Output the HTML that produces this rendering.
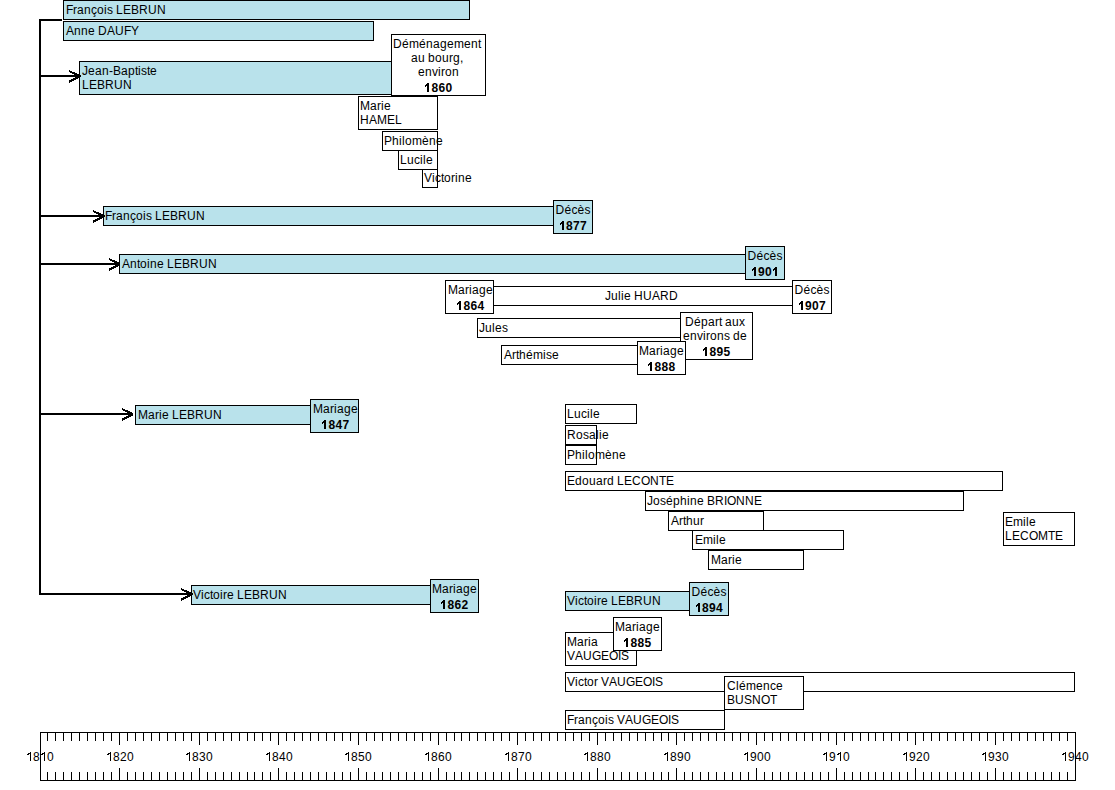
<!DOCTYPE html>
<html><head><meta charset="utf-8"><style>
html,body{margin:0;padding:0;background:#fff;width:1115px;height:790px;overflow:hidden}
svg{position:absolute;left:0;top:0;display:block}
text{font-family:"Liberation Sans",sans-serif;font-size:12px;fill:#000}
.y{font-weight:bold}
</style></head><body>
<svg width="1115" height="790" viewBox="0 0 1115 790">
<rect x="63.5" y="0.5" width="406" height="19" fill="#B9E2EB" stroke="#000" stroke-width="1"/>
<text x="66 73 77 84 91 97 104 107 113 116 123 131 139 148 157" y="14">François LEBRUN</text>
<rect x="63.5" y="21.5" width="310" height="19" fill="#B9E2EB" stroke="#000" stroke-width="1"/>
<text x="66 74 81 88 95 98 107 115 124 131" y="35">Anne DAUFY</text>
<rect x="79.5" y="61.5" width="316" height="33" fill="#B9E2EB" stroke="#000" stroke-width="1"/>
<text x="82 88 95 102 109 113 121 128 135 138 141 147 150" y="75">Jean-Baptiste</text>
<text x="82 89 97 105 114 123" y="89">LEBRUN</text>
<rect x="391.5" y="34.5" width="94" height="61" fill="#fff" stroke="#000" stroke-width="1"/>
<text x="393 402 409 419 426 433 440 447 454 464 471 478" y="48">Déménagement</text>
<text x="411 418 425 428 435 442 449 453 460" y="62">au bourg,</text>
<text x="418 425 432 438 441 445 452" y="76">environ</text>
<text x="431.5 438.5 445.5" y="92" class="y">860</text>
<g shape-rendering="crispEdges" fill="#000"><rect x="427" y="83" width="2" height="9"/><rect x="425" y="85" width="1" height="2"/><rect x="426" y="84" width="1" height="2"/></g>
<rect x="358.5" y="96.5" width="79" height="33" fill="#fff" stroke="#000" stroke-width="1"/>
<text x="360 370 377 381 384" y="110">Marie</text>
<text x="360 369 377 387 395" y="124">HAMEL</text>
<rect x="382.5" y="131.5" width="55" height="19" fill="#fff" stroke="#000" stroke-width="1"/>
<text x="384 392 399 402 405 412 422 429 436" y="145">Philomène</text>
<rect x="398.5" y="150.5" width="39" height="19" fill="#fff" stroke="#000" stroke-width="1"/>
<text x="400 407 414 420 423 426" y="164">Lucile</text>
<rect x="422.5" y="169.5" width="15" height="18" fill="#fff" stroke="#000" stroke-width="1"/>
<text x="424 432 435 441 444 451 455 458 465" y="182">Victorine</text>
<rect x="103.5" y="206.5" width="457" height="19" fill="#B9E2EB" stroke="#000" stroke-width="1"/>
<text x="105 112 116 123 130 136 143 146 152 155 162 170 178 187 196" y="220">François LEBRUN</text>
<rect x="553.5" y="200.5" width="39" height="33" fill="#B9E2EB" stroke="#000" stroke-width="1"/>
<text x="555.5 564.5 571.5 577.5 584.5" y="214">Décès</text>
<text x="566 573 580" y="230" class="y">877</text>
<g shape-rendering="crispEdges" fill="#000"><rect x="562" y="221" width="2" height="9"/><rect x="560" y="223" width="1" height="2"/><rect x="561" y="222" width="1" height="2"/></g>
<rect x="119.5" y="254.5" width="631" height="19" fill="#B9E2EB" stroke="#000" stroke-width="1"/>
<text x="122 130 137 140 147 150 157 164 167 174 182 190 199 208" y="268">Antoine LEBRUN</text>
<rect x="745.5" y="246.5" width="39" height="33" fill="#B9E2EB" stroke="#000" stroke-width="1"/>
<text x="747.5 756.5 763.5 769.5 776.5" y="260">Décès</text>
<text x="758 765" y="276" class="y">90</text>
<g shape-rendering="crispEdges" fill="#000"><rect x="754" y="267" width="2" height="9"/><rect x="752" y="269" width="1" height="2"/><rect x="753" y="268" width="1" height="2"/><rect x="775" y="267" width="2" height="9"/><rect x="773" y="269" width="1" height="2"/><rect x="774" y="268" width="1" height="2"/></g>
<rect x="487.5" y="286.5" width="309" height="19" fill="#fff" stroke="#000" stroke-width="1"/>
<text x="605 611 618 621 624 631 634 643 652 660 669" y="300">Julie HUARD</text>
<rect x="445.5" y="280.5" width="48" height="33" fill="#fff" stroke="#000" stroke-width="1"/>
<text x="448 458 465 469 472 479 486" y="294">Mariage</text>
<text x="463.5 470.5 477.5" y="310" class="y">864</text>
<g shape-rendering="crispEdges" fill="#000"><rect x="459" y="301" width="2" height="9"/><rect x="457" y="303" width="1" height="2"/><rect x="458" y="302" width="1" height="2"/></g>
<rect x="792.5" y="280.5" width="39" height="33" fill="#fff" stroke="#000" stroke-width="1"/>
<text x="794.5 803.5 810.5 816.5 823.5" y="294">Décès</text>
<text x="805 812 819" y="310" class="y">907</text>
<g shape-rendering="crispEdges" fill="#000"><rect x="801" y="301" width="2" height="9"/><rect x="799" y="303" width="1" height="2"/><rect x="800" y="302" width="1" height="2"/></g>
<rect x="477.5" y="318.5" width="208" height="19" fill="#fff" stroke="#000" stroke-width="1"/>
<text x="479 485 492 495 502" y="332">Jules</text>
<rect x="501.5" y="345.5" width="144" height="19" fill="#fff" stroke="#000" stroke-width="1"/>
<text x="504 512 516 519 526 533 543 546 552" y="359">Arthémise</text>
<rect x="680.5" y="312.5" width="72" height="47" fill="#fff" stroke="#000" stroke-width="1"/>
<text x="685 694 701 708 715 719 722 725 732 739" y="326">Départ aux</text>
<text x="683 690 697 703 706 710 717 724 730 733 740" y="340">environs de</text>
<text x="709.5 716.5 723.5" y="356" class="y">895</text>
<g shape-rendering="crispEdges" fill="#000"><rect x="705" y="347" width="2" height="9"/><rect x="703" y="349" width="1" height="2"/><rect x="704" y="348" width="1" height="2"/></g>
<rect x="637.5" y="341.5" width="48" height="33" fill="#fff" stroke="#000" stroke-width="1"/>
<text x="639 649 656 660 663 670 677" y="355">Mariage</text>
<text x="654.5 661.5 668.5" y="371" class="y">888</text>
<g shape-rendering="crispEdges" fill="#000"><rect x="650" y="362" width="2" height="9"/><rect x="648" y="364" width="1" height="2"/><rect x="649" y="363" width="1" height="2"/></g>
<rect x="135.5" y="405.5" width="180" height="19" fill="#B9E2EB" stroke="#000" stroke-width="1"/>
<text x="138 148 155 159 162 169 172 179 187 195 204 213" y="419">Marie LEBRUN</text>
<rect x="310.5" y="399.5" width="48" height="33" fill="#B9E2EB" stroke="#000" stroke-width="1"/>
<text x="313 323 330 334 337 344 351" y="413">Mariage</text>
<text x="328.5 335.5 342.5" y="429" class="y">847</text>
<g shape-rendering="crispEdges" fill="#000"><rect x="324" y="420" width="2" height="9"/><rect x="322" y="422" width="1" height="2"/><rect x="323" y="421" width="1" height="2"/></g>
<rect x="565.5" y="404.5" width="71" height="19" fill="#fff" stroke="#000" stroke-width="1"/>
<text x="567 574 581 587 590 593" y="418">Lucile</text>
<rect x="565.5" y="425.5" width="31" height="19" fill="#fff" stroke="#000" stroke-width="1"/>
<text x="567 576 583 589 596 599 602" y="439">Rosalie</text>
<rect x="565.5" y="445.5" width="31" height="19" fill="#fff" stroke="#000" stroke-width="1"/>
<text x="567 575 582 585 588 595 605 612 619" y="459">Philomène</text>
<rect x="565.5" y="471.5" width="437" height="19" fill="#fff" stroke="#000" stroke-width="1"/>
<text x="567 575 582 589 596 603 607 614 617 624 632 641 650 659 666" y="485">Edouard LECONTE</text>
<rect x="645.5" y="491.5" width="318" height="19" fill="#fff" stroke="#000" stroke-width="1"/>
<text x="647 653 660 666 673 680 687 690 697 704 707 715 724 727 736 745 754" y="505">Joséphine BRIONNE</text>
<rect x="668.5" y="511.5" width="95" height="19" fill="#fff" stroke="#000" stroke-width="1"/>
<text x="671 679 683 686 693 700" y="525">Arthur</text>
<rect x="692.5" y="530.5" width="151" height="19" fill="#fff" stroke="#000" stroke-width="1"/>
<text x="695 703 713 716 719" y="544">Emile</text>
<rect x="708.5" y="550.5" width="95" height="19" fill="#fff" stroke="#000" stroke-width="1"/>
<text x="711 721 728 732 735" y="564">Marie</text>
<rect x="1003.5" y="512.5" width="71" height="33" fill="#fff" stroke="#000" stroke-width="1"/>
<text x="1005 1013 1023 1026 1029" y="526">Emile</text>
<text x="1005 1012 1020 1029 1038 1048 1055" y="540">LECOMTE</text>
<rect x="191.5" y="585.5" width="244" height="19" fill="#B9E2EB" stroke="#000" stroke-width="1"/>
<text x="193 201 204 210 213 220 223 227 234 237 244 252 260 269 278" y="599">Victoire LEBRUN</text>
<rect x="430.5" y="579.5" width="48" height="33" fill="#B9E2EB" stroke="#000" stroke-width="1"/>
<text x="432 442 449 453 456 463 470" y="593">Mariage</text>
<text x="447.5 454.5 461.5" y="609" class="y">862</text>
<g shape-rendering="crispEdges" fill="#000"><rect x="443" y="600" width="2" height="9"/><rect x="441" y="602" width="1" height="2"/><rect x="442" y="601" width="1" height="2"/></g>
<rect x="565.5" y="591.5" width="130" height="19" fill="#B9E2EB" stroke="#000" stroke-width="1"/>
<text x="567 575 578 584 587 594 597 601 608 611 618 626 634 643 652" y="605">Victoire LEBRUN</text>
<rect x="689.5" y="582.5" width="39" height="33" fill="#B9E2EB" stroke="#000" stroke-width="1"/>
<text x="691.5 700.5 707.5 713.5 720.5" y="596">Décès</text>
<text x="702 709 716" y="612" class="y">894</text>
<g shape-rendering="crispEdges" fill="#000"><rect x="698" y="603" width="2" height="9"/><rect x="696" y="605" width="1" height="2"/><rect x="697" y="604" width="1" height="2"/></g>
<rect x="565.5" y="632.5" width="71" height="33" fill="#fff" stroke="#000" stroke-width="1"/>
<text x="567 577 584 588 591" y="646">Maria</text>
<text x="567 575 583 592 601 609 618 621" y="660">VAUGEOIS</text>
<rect x="613.5" y="617.5" width="48" height="33" fill="#fff" stroke="#000" stroke-width="1"/>
<text x="615 625 632 636 639 646 653" y="631">Mariage</text>
<text x="630.5 637.5 644.5" y="647" class="y">885</text>
<g shape-rendering="crispEdges" fill="#000"><rect x="626" y="638" width="2" height="9"/><rect x="624" y="640" width="1" height="2"/><rect x="625" y="639" width="1" height="2"/></g>
<rect x="565.5" y="672.5" width="509" height="19" fill="#fff" stroke="#000" stroke-width="1"/>
<text x="567 575 578 584 587 594 598 601 609 617 626 635 643 652 655" y="686">Victor VAUGEOIS</text>
<rect x="565.5" y="710.5" width="159" height="19" fill="#fff" stroke="#000" stroke-width="1"/>
<text x="567 574 578 585 592 598 605 608 614 617 625 633 642 651 659 668 671" y="724">François VAUGEOIS</text>
<rect x="724.5" y="676.5" width="79" height="33" fill="#fff" stroke="#000" stroke-width="1"/>
<text x="727 736 739 746 756 763 770 776" y="690">Clémence</text>
<text x="727 735 744 752 761 770" y="704">BUSNOT</text>
<g shape-rendering="crispEdges" fill="#000">
<rect x="39" y="19" width="2" height="576"/>
<rect x="39" y="19" width="23" height="2"/>
<rect x="39" y="75" width="42" height="2"/>
<rect x="39" y="215" width="66" height="2"/>
<rect x="39" y="263" width="81" height="2"/>
<rect x="39" y="413" width="94" height="2"/>
<rect x="39" y="593" width="154" height="2"/>
</g>
<g fill="none" stroke="#000" stroke-width="2" stroke-linejoin="bevel" shape-rendering="crispEdges">
<polyline points="69,71 80,76.2 69,81.7"/>
<polyline points="93,211 104,216.2 93,221.7"/>
<polyline points="109,259 120,264.2 109,269.7"/>
<polyline points="122,409 133,414.2 122,419.7"/>
<polyline points="181,589 192,594.2 181,599.7"/>
</g>
<text x="33 47" y="761">80</text>
<text x="113 120 127" y="761">820</text>
<text x="192 199 206" y="761">830</text>
<text x="272 279 286" y="761">840</text>
<text x="351 358 365" y="761">850</text>
<text x="431 438 445" y="761">860</text>
<text x="511 518 525" y="761">870</text>
<text x="590 597 604" y="761">880</text>
<text x="670 677 684" y="761">890</text>
<text x="750 757 764" y="761">900</text>
<text x="829 843" y="761">90</text>
<text x="909 916 923" y="761">920</text>
<text x="988 995 1002" y="761">930</text>
<text x="1068 1075 1082" y="761">940</text>
<g shape-rendering="crispEdges" fill="#000"><rect x="30" y="752" width="1" height="9"/><rect x="29" y="753" width="1" height="1"/><rect x="28" y="753" width="1" height="2"/><rect x="27" y="754" width="1" height="1"/><rect x="44" y="752" width="1" height="9"/><rect x="43" y="753" width="1" height="1"/><rect x="42" y="753" width="1" height="2"/><rect x="41" y="754" width="1" height="1"/><rect x="110" y="752" width="1" height="9"/><rect x="109" y="753" width="1" height="1"/><rect x="108" y="753" width="1" height="2"/><rect x="107" y="754" width="1" height="1"/><rect x="189" y="752" width="1" height="9"/><rect x="188" y="753" width="1" height="1"/><rect x="187" y="753" width="1" height="2"/><rect x="186" y="754" width="1" height="1"/><rect x="269" y="752" width="1" height="9"/><rect x="268" y="753" width="1" height="1"/><rect x="267" y="753" width="1" height="2"/><rect x="266" y="754" width="1" height="1"/><rect x="348" y="752" width="1" height="9"/><rect x="347" y="753" width="1" height="1"/><rect x="346" y="753" width="1" height="2"/><rect x="345" y="754" width="1" height="1"/><rect x="428" y="752" width="1" height="9"/><rect x="427" y="753" width="1" height="1"/><rect x="426" y="753" width="1" height="2"/><rect x="425" y="754" width="1" height="1"/><rect x="508" y="752" width="1" height="9"/><rect x="507" y="753" width="1" height="1"/><rect x="506" y="753" width="1" height="2"/><rect x="505" y="754" width="1" height="1"/><rect x="587" y="752" width="1" height="9"/><rect x="586" y="753" width="1" height="1"/><rect x="585" y="753" width="1" height="2"/><rect x="584" y="754" width="1" height="1"/><rect x="667" y="752" width="1" height="9"/><rect x="666" y="753" width="1" height="1"/><rect x="665" y="753" width="1" height="2"/><rect x="664" y="754" width="1" height="1"/><rect x="747" y="752" width="1" height="9"/><rect x="746" y="753" width="1" height="1"/><rect x="745" y="753" width="1" height="2"/><rect x="744" y="754" width="1" height="1"/><rect x="826" y="752" width="1" height="9"/><rect x="825" y="753" width="1" height="1"/><rect x="824" y="753" width="1" height="2"/><rect x="823" y="754" width="1" height="1"/><rect x="840" y="752" width="1" height="9"/><rect x="839" y="753" width="1" height="1"/><rect x="838" y="753" width="1" height="2"/><rect x="837" y="754" width="1" height="1"/><rect x="906" y="752" width="1" height="9"/><rect x="905" y="753" width="1" height="1"/><rect x="904" y="753" width="1" height="2"/><rect x="903" y="754" width="1" height="1"/><rect x="985" y="752" width="1" height="9"/><rect x="984" y="753" width="1" height="1"/><rect x="983" y="753" width="1" height="2"/><rect x="982" y="754" width="1" height="1"/><rect x="1065" y="752" width="1" height="9"/><rect x="1064" y="753" width="1" height="1"/><rect x="1063" y="753" width="1" height="2"/><rect x="1062" y="754" width="1" height="1"/></g>
<g shape-rendering="crispEdges" fill="#000">
<rect x="40" y="732" width="1036" height="1"/>
<rect x="40" y="780" width="1036" height="1"/>
<rect x="40" y="732" width="1" height="49"/>
<rect x="1075" y="732" width="1" height="49"/>
<rect x="47" y="732" width="1" height="9"/>
<rect x="47" y="772" width="1" height="9"/>
<rect x="55" y="732" width="1" height="9"/>
<rect x="55" y="772" width="1" height="9"/>
<rect x="63" y="732" width="1" height="9"/>
<rect x="63" y="772" width="1" height="9"/>
<rect x="71" y="732" width="1" height="9"/>
<rect x="71" y="772" width="1" height="9"/>
<rect x="79" y="732" width="1" height="9"/>
<rect x="79" y="772" width="1" height="9"/>
<rect x="87" y="732" width="1" height="9"/>
<rect x="87" y="772" width="1" height="9"/>
<rect x="95" y="732" width="1" height="9"/>
<rect x="95" y="772" width="1" height="9"/>
<rect x="103" y="732" width="1" height="9"/>
<rect x="103" y="772" width="1" height="9"/>
<rect x="111" y="732" width="1" height="9"/>
<rect x="111" y="772" width="1" height="9"/>
<rect x="119" y="732" width="1" height="13"/>
<rect x="119" y="768" width="1" height="13"/>
<rect x="127" y="732" width="1" height="9"/>
<rect x="127" y="772" width="1" height="9"/>
<rect x="135" y="732" width="1" height="9"/>
<rect x="135" y="772" width="1" height="9"/>
<rect x="143" y="732" width="1" height="9"/>
<rect x="143" y="772" width="1" height="9"/>
<rect x="151" y="732" width="1" height="9"/>
<rect x="151" y="772" width="1" height="9"/>
<rect x="159" y="732" width="1" height="9"/>
<rect x="159" y="772" width="1" height="9"/>
<rect x="167" y="732" width="1" height="9"/>
<rect x="167" y="772" width="1" height="9"/>
<rect x="175" y="732" width="1" height="9"/>
<rect x="175" y="772" width="1" height="9"/>
<rect x="183" y="732" width="1" height="9"/>
<rect x="183" y="772" width="1" height="9"/>
<rect x="191" y="732" width="1" height="9"/>
<rect x="191" y="772" width="1" height="9"/>
<rect x="199" y="732" width="1" height="13"/>
<rect x="199" y="768" width="1" height="13"/>
<rect x="207" y="732" width="1" height="9"/>
<rect x="207" y="772" width="1" height="9"/>
<rect x="215" y="732" width="1" height="9"/>
<rect x="215" y="772" width="1" height="9"/>
<rect x="223" y="732" width="1" height="9"/>
<rect x="223" y="772" width="1" height="9"/>
<rect x="231" y="732" width="1" height="9"/>
<rect x="231" y="772" width="1" height="9"/>
<rect x="239" y="732" width="1" height="9"/>
<rect x="239" y="772" width="1" height="9"/>
<rect x="247" y="732" width="1" height="9"/>
<rect x="247" y="772" width="1" height="9"/>
<rect x="254" y="732" width="1" height="9"/>
<rect x="254" y="772" width="1" height="9"/>
<rect x="262" y="732" width="1" height="9"/>
<rect x="262" y="772" width="1" height="9"/>
<rect x="270" y="732" width="1" height="9"/>
<rect x="270" y="772" width="1" height="9"/>
<rect x="278" y="732" width="1" height="13"/>
<rect x="278" y="768" width="1" height="13"/>
<rect x="286" y="732" width="1" height="9"/>
<rect x="286" y="772" width="1" height="9"/>
<rect x="294" y="732" width="1" height="9"/>
<rect x="294" y="772" width="1" height="9"/>
<rect x="302" y="732" width="1" height="9"/>
<rect x="302" y="772" width="1" height="9"/>
<rect x="310" y="732" width="1" height="9"/>
<rect x="310" y="772" width="1" height="9"/>
<rect x="318" y="732" width="1" height="9"/>
<rect x="318" y="772" width="1" height="9"/>
<rect x="326" y="732" width="1" height="9"/>
<rect x="326" y="772" width="1" height="9"/>
<rect x="334" y="732" width="1" height="9"/>
<rect x="334" y="772" width="1" height="9"/>
<rect x="342" y="732" width="1" height="9"/>
<rect x="342" y="772" width="1" height="9"/>
<rect x="350" y="732" width="1" height="9"/>
<rect x="350" y="772" width="1" height="9"/>
<rect x="358" y="732" width="1" height="13"/>
<rect x="358" y="768" width="1" height="13"/>
<rect x="366" y="732" width="1" height="9"/>
<rect x="366" y="772" width="1" height="9"/>
<rect x="374" y="732" width="1" height="9"/>
<rect x="374" y="772" width="1" height="9"/>
<rect x="382" y="732" width="1" height="9"/>
<rect x="382" y="772" width="1" height="9"/>
<rect x="390" y="732" width="1" height="9"/>
<rect x="390" y="772" width="1" height="9"/>
<rect x="398" y="732" width="1" height="9"/>
<rect x="398" y="772" width="1" height="9"/>
<rect x="406" y="732" width="1" height="9"/>
<rect x="406" y="772" width="1" height="9"/>
<rect x="414" y="732" width="1" height="9"/>
<rect x="414" y="772" width="1" height="9"/>
<rect x="422" y="732" width="1" height="9"/>
<rect x="422" y="772" width="1" height="9"/>
<rect x="430" y="732" width="1" height="9"/>
<rect x="430" y="772" width="1" height="9"/>
<rect x="438" y="732" width="1" height="13"/>
<rect x="438" y="768" width="1" height="13"/>
<rect x="446" y="732" width="1" height="9"/>
<rect x="446" y="772" width="1" height="9"/>
<rect x="454" y="732" width="1" height="9"/>
<rect x="454" y="772" width="1" height="9"/>
<rect x="461" y="732" width="1" height="9"/>
<rect x="461" y="772" width="1" height="9"/>
<rect x="469" y="732" width="1" height="9"/>
<rect x="469" y="772" width="1" height="9"/>
<rect x="477" y="732" width="1" height="9"/>
<rect x="477" y="772" width="1" height="9"/>
<rect x="485" y="732" width="1" height="9"/>
<rect x="485" y="772" width="1" height="9"/>
<rect x="493" y="732" width="1" height="9"/>
<rect x="493" y="772" width="1" height="9"/>
<rect x="501" y="732" width="1" height="9"/>
<rect x="501" y="772" width="1" height="9"/>
<rect x="509" y="732" width="1" height="9"/>
<rect x="509" y="772" width="1" height="9"/>
<rect x="517" y="732" width="1" height="13"/>
<rect x="517" y="768" width="1" height="13"/>
<rect x="525" y="732" width="1" height="9"/>
<rect x="525" y="772" width="1" height="9"/>
<rect x="533" y="732" width="1" height="9"/>
<rect x="533" y="772" width="1" height="9"/>
<rect x="541" y="732" width="1" height="9"/>
<rect x="541" y="772" width="1" height="9"/>
<rect x="549" y="732" width="1" height="9"/>
<rect x="549" y="772" width="1" height="9"/>
<rect x="557" y="732" width="1" height="9"/>
<rect x="557" y="772" width="1" height="9"/>
<rect x="565" y="732" width="1" height="9"/>
<rect x="565" y="772" width="1" height="9"/>
<rect x="573" y="732" width="1" height="9"/>
<rect x="573" y="772" width="1" height="9"/>
<rect x="581" y="732" width="1" height="9"/>
<rect x="581" y="772" width="1" height="9"/>
<rect x="589" y="732" width="1" height="9"/>
<rect x="589" y="772" width="1" height="9"/>
<rect x="597" y="732" width="1" height="13"/>
<rect x="597" y="768" width="1" height="13"/>
<rect x="605" y="732" width="1" height="9"/>
<rect x="605" y="772" width="1" height="9"/>
<rect x="613" y="732" width="1" height="9"/>
<rect x="613" y="772" width="1" height="9"/>
<rect x="621" y="732" width="1" height="9"/>
<rect x="621" y="772" width="1" height="9"/>
<rect x="629" y="732" width="1" height="9"/>
<rect x="629" y="772" width="1" height="9"/>
<rect x="637" y="732" width="1" height="9"/>
<rect x="637" y="772" width="1" height="9"/>
<rect x="645" y="732" width="1" height="9"/>
<rect x="645" y="772" width="1" height="9"/>
<rect x="653" y="732" width="1" height="9"/>
<rect x="653" y="772" width="1" height="9"/>
<rect x="661" y="732" width="1" height="9"/>
<rect x="661" y="772" width="1" height="9"/>
<rect x="668" y="732" width="1" height="9"/>
<rect x="668" y="772" width="1" height="9"/>
<rect x="676" y="732" width="1" height="13"/>
<rect x="676" y="768" width="1" height="13"/>
<rect x="684" y="732" width="1" height="9"/>
<rect x="684" y="772" width="1" height="9"/>
<rect x="692" y="732" width="1" height="9"/>
<rect x="692" y="772" width="1" height="9"/>
<rect x="700" y="732" width="1" height="9"/>
<rect x="700" y="772" width="1" height="9"/>
<rect x="708" y="732" width="1" height="9"/>
<rect x="708" y="772" width="1" height="9"/>
<rect x="716" y="732" width="1" height="9"/>
<rect x="716" y="772" width="1" height="9"/>
<rect x="724" y="732" width="1" height="9"/>
<rect x="724" y="772" width="1" height="9"/>
<rect x="732" y="732" width="1" height="9"/>
<rect x="732" y="772" width="1" height="9"/>
<rect x="740" y="732" width="1" height="9"/>
<rect x="740" y="772" width="1" height="9"/>
<rect x="748" y="732" width="1" height="9"/>
<rect x="748" y="772" width="1" height="9"/>
<rect x="756" y="732" width="1" height="13"/>
<rect x="756" y="768" width="1" height="13"/>
<rect x="764" y="732" width="1" height="9"/>
<rect x="764" y="772" width="1" height="9"/>
<rect x="772" y="732" width="1" height="9"/>
<rect x="772" y="772" width="1" height="9"/>
<rect x="780" y="732" width="1" height="9"/>
<rect x="780" y="772" width="1" height="9"/>
<rect x="788" y="732" width="1" height="9"/>
<rect x="788" y="772" width="1" height="9"/>
<rect x="796" y="732" width="1" height="9"/>
<rect x="796" y="772" width="1" height="9"/>
<rect x="804" y="732" width="1" height="9"/>
<rect x="804" y="772" width="1" height="9"/>
<rect x="812" y="732" width="1" height="9"/>
<rect x="812" y="772" width="1" height="9"/>
<rect x="820" y="732" width="1" height="9"/>
<rect x="820" y="772" width="1" height="9"/>
<rect x="828" y="732" width="1" height="9"/>
<rect x="828" y="772" width="1" height="9"/>
<rect x="836" y="732" width="1" height="13"/>
<rect x="836" y="768" width="1" height="13"/>
<rect x="844" y="732" width="1" height="9"/>
<rect x="844" y="772" width="1" height="9"/>
<rect x="852" y="732" width="1" height="9"/>
<rect x="852" y="772" width="1" height="9"/>
<rect x="860" y="732" width="1" height="9"/>
<rect x="860" y="772" width="1" height="9"/>
<rect x="868" y="732" width="1" height="9"/>
<rect x="868" y="772" width="1" height="9"/>
<rect x="875" y="732" width="1" height="9"/>
<rect x="875" y="772" width="1" height="9"/>
<rect x="883" y="732" width="1" height="9"/>
<rect x="883" y="772" width="1" height="9"/>
<rect x="891" y="732" width="1" height="9"/>
<rect x="891" y="772" width="1" height="9"/>
<rect x="899" y="732" width="1" height="9"/>
<rect x="899" y="772" width="1" height="9"/>
<rect x="907" y="732" width="1" height="9"/>
<rect x="907" y="772" width="1" height="9"/>
<rect x="915" y="732" width="1" height="13"/>
<rect x="915" y="768" width="1" height="13"/>
<rect x="923" y="732" width="1" height="9"/>
<rect x="923" y="772" width="1" height="9"/>
<rect x="931" y="732" width="1" height="9"/>
<rect x="931" y="772" width="1" height="9"/>
<rect x="939" y="732" width="1" height="9"/>
<rect x="939" y="772" width="1" height="9"/>
<rect x="947" y="732" width="1" height="9"/>
<rect x="947" y="772" width="1" height="9"/>
<rect x="955" y="732" width="1" height="9"/>
<rect x="955" y="772" width="1" height="9"/>
<rect x="963" y="732" width="1" height="9"/>
<rect x="963" y="772" width="1" height="9"/>
<rect x="971" y="732" width="1" height="9"/>
<rect x="971" y="772" width="1" height="9"/>
<rect x="979" y="732" width="1" height="9"/>
<rect x="979" y="772" width="1" height="9"/>
<rect x="987" y="732" width="1" height="9"/>
<rect x="987" y="772" width="1" height="9"/>
<rect x="995" y="732" width="1" height="13"/>
<rect x="995" y="768" width="1" height="13"/>
<rect x="1003" y="732" width="1" height="9"/>
<rect x="1003" y="772" width="1" height="9"/>
<rect x="1011" y="732" width="1" height="9"/>
<rect x="1011" y="772" width="1" height="9"/>
<rect x="1019" y="732" width="1" height="9"/>
<rect x="1019" y="772" width="1" height="9"/>
<rect x="1027" y="732" width="1" height="9"/>
<rect x="1027" y="772" width="1" height="9"/>
<rect x="1035" y="732" width="1" height="9"/>
<rect x="1035" y="772" width="1" height="9"/>
<rect x="1043" y="732" width="1" height="9"/>
<rect x="1043" y="772" width="1" height="9"/>
<rect x="1051" y="732" width="1" height="9"/>
<rect x="1051" y="772" width="1" height="9"/>
<rect x="1059" y="732" width="1" height="9"/>
<rect x="1059" y="772" width="1" height="9"/>
<rect x="1067" y="732" width="1" height="9"/>
<rect x="1067" y="772" width="1" height="9"/>
</g>
</svg></body></html>
